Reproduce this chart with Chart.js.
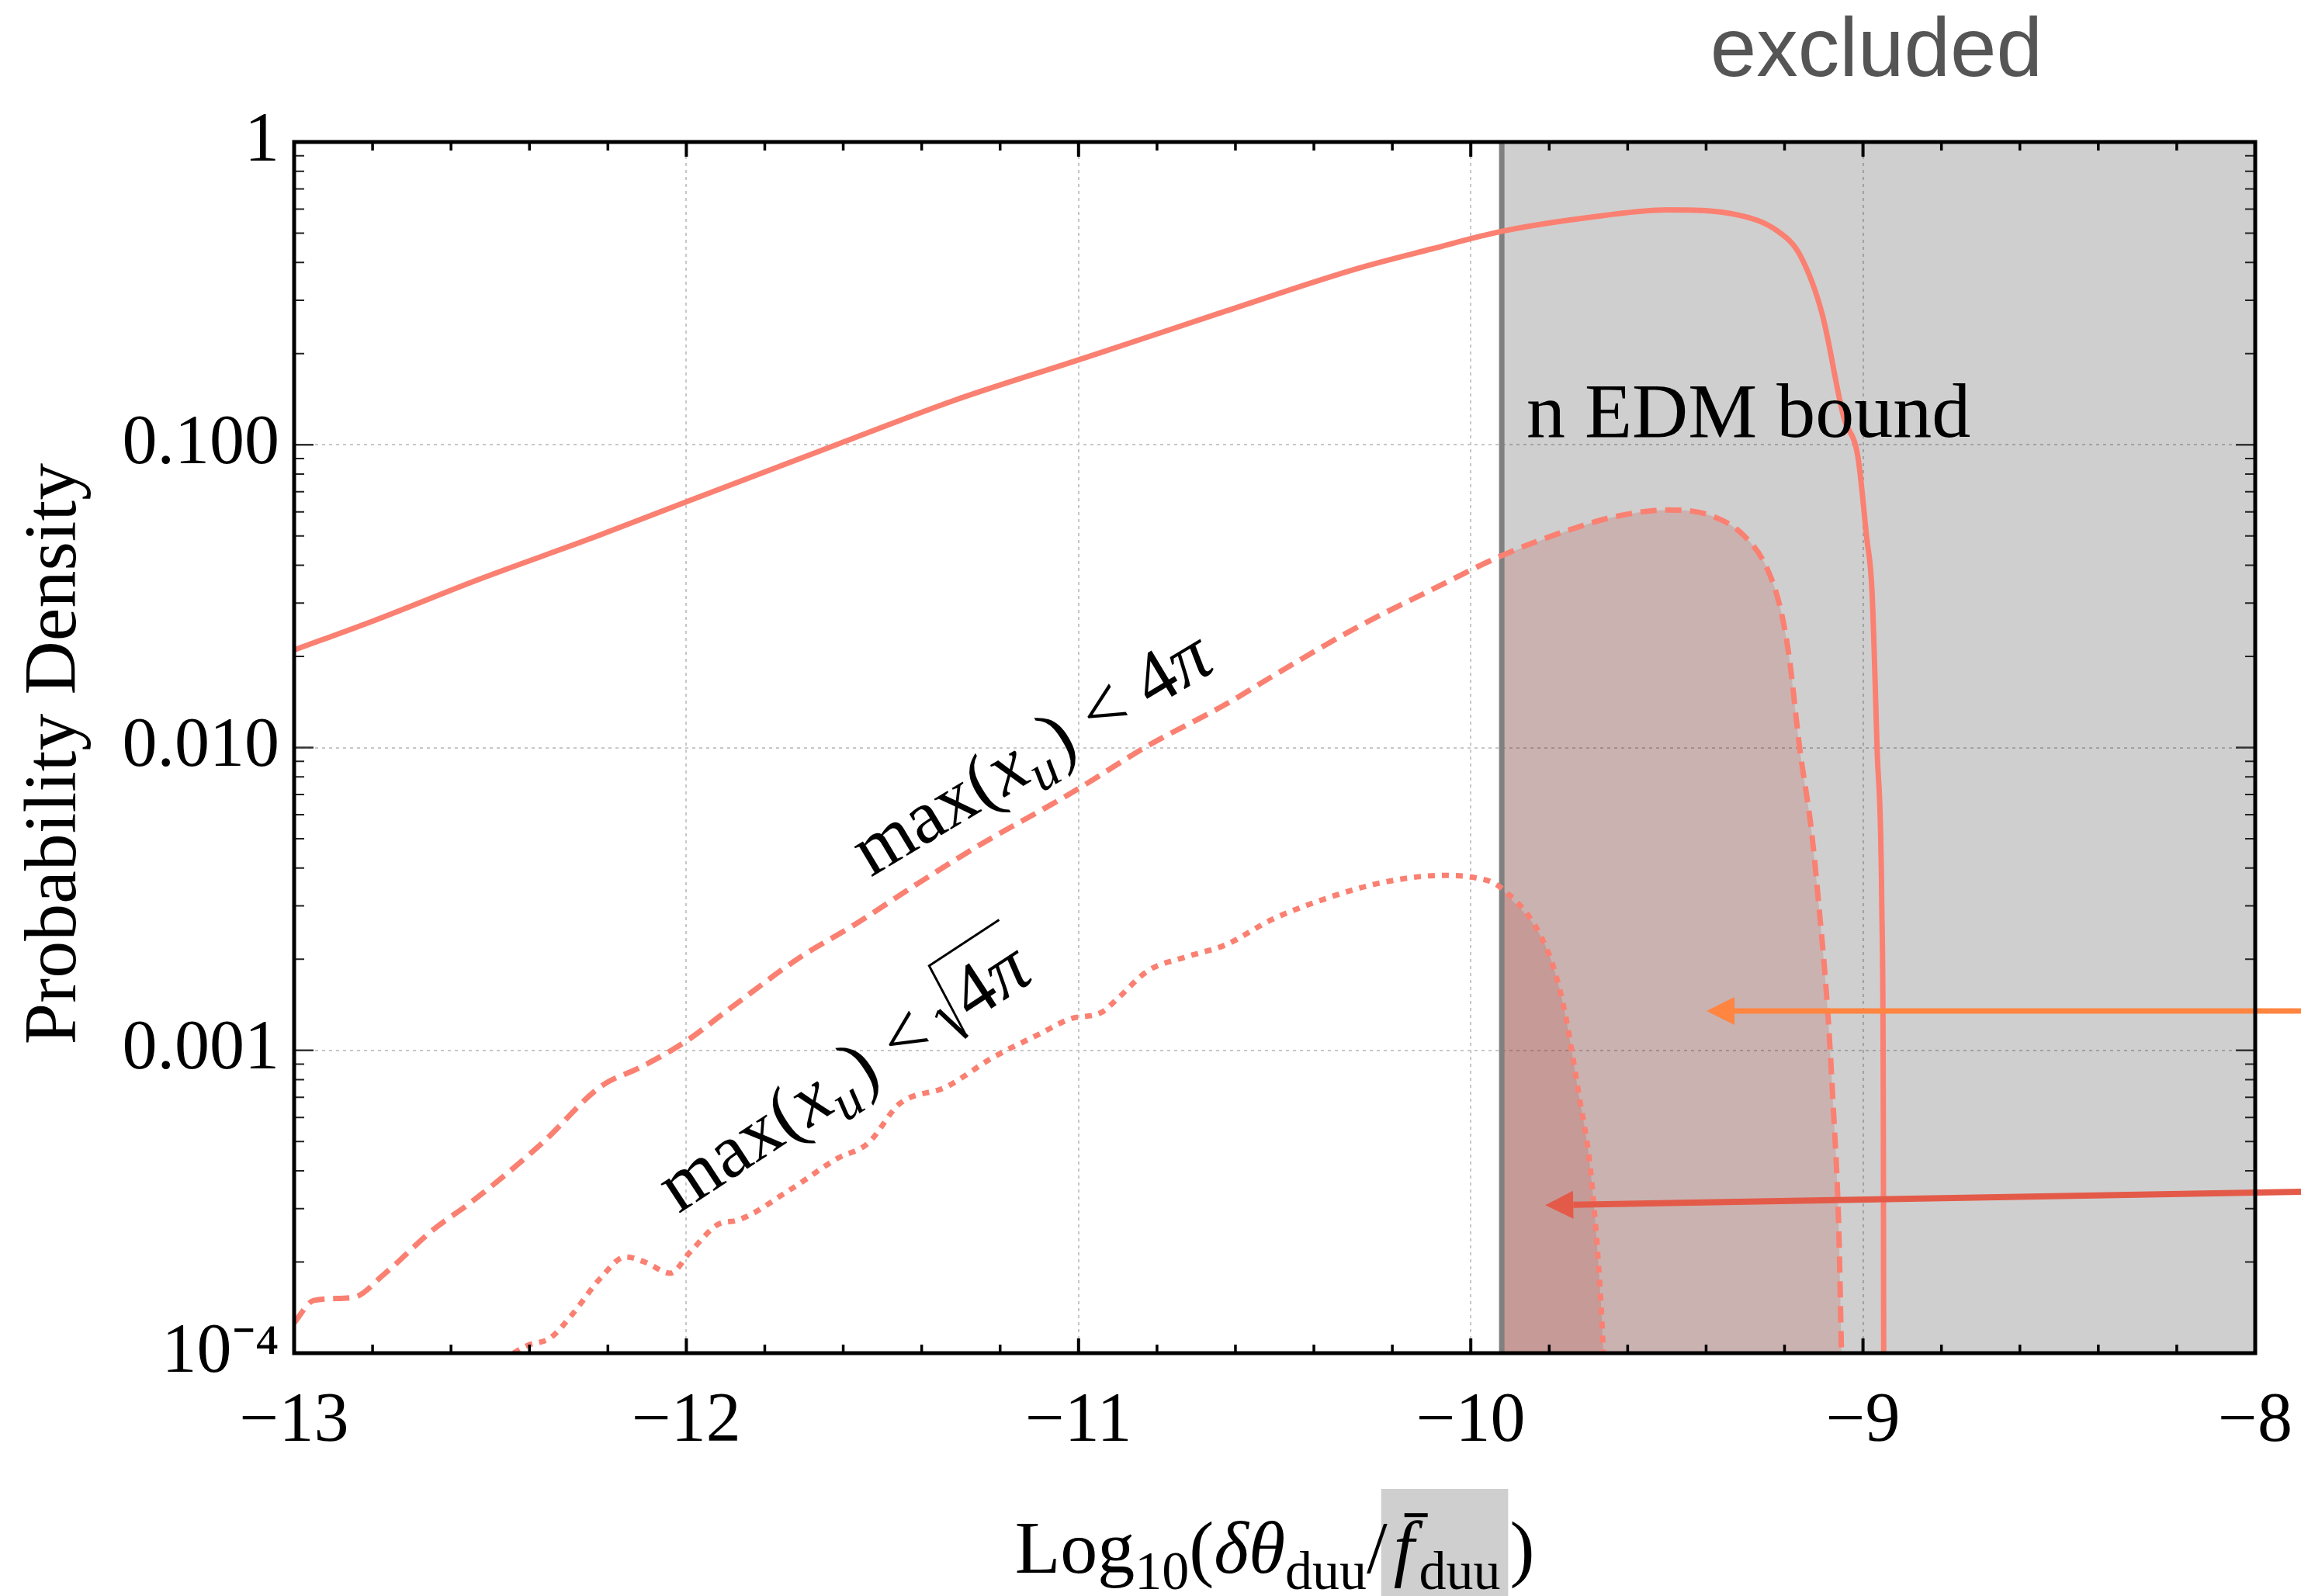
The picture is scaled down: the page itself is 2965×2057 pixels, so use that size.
<!DOCTYPE html>
<html>
<head>
<meta charset="utf-8">
<script src="https://cdn.jsdelivr.net/npm/chart.js@4.4.1/dist/chart.umd.min.js"></script>
<style>
  html, body { margin: 0; padding: 0; background: #ffffff; }
  canvas { display: block; }
</style>
</head>
<body>
<canvas id="chart" width="2965" height="2057" style="width:2965px;height:2057px"></canvas>
<script>
// ===== Data =====
const xTicks = [-13, -12, -11, -10, -9, -8];
const xTickLabels = ["\u221213", "\u221212", "\u221211", "\u221210", "\u22129", "\u22128"];
const yTicks = [1e-4, 1e-3, 1e-2, 0.1, 1];
const yTickLabels = ["10\u207B\u2074", "0.001", "0.010", "0.100", "1"];

const nEdmBound = -9.921;

// solid curve (no cut)
const solidX = [-13, -12.802, -12.525, -12.228, -11.991, -11.575, -11.318, -10.982, -10.626, -10.289,
  -10.101, -9.921, -9.710, -9.498, -9.316, -9.217, -9.161, -9.104, -9.049, -9.013,
  -8.991, -8.977, -8.964, -8.952, -8.948, -8.947];
const solidY = [0.0210, 0.0261, 0.0361, 0.0499, 0.0655, 0.105, 0.140, 0.194, 0.276, 0.382,
  0.443, 0.507, 0.561, 0.597, 0.573, 0.507, 0.424, 0.270, 0.123, 0.0912,
  0.0499, 0.0328, 0.00986, 0.00296, 0.000483, 0.00005];

// dashed curve: max(x_u) < 4pi
const dashedX = [-13, -12.950, -12.849, -12.772, -12.646, -12.545, -12.369, -12.218, -12.117, -12.003,
  -11.892, -11.714, -11.575, -11.417, -11.259, -11.021, -10.823, -10.626, -10.487, -10.289,
  -10.111, -9.921, -9.737, -9.624, -9.498, -9.385, -9.302, -9.245, -9.211, -9.189,
  -9.161, -9.132, -9.112, -9.090, -9.076, -9.062, -9.055, -9.050];
const dashedY = [1.259e-4, 1.493e-4, 1.528e-4, 1.816e-4, 2.553e-4, 3.177e-4, 4.920e-4, 7.603e-4, 8.79e-4, 1.067e-3,
  1.365e-3, 2.014e-3, 2.582e-3, 3.508e-3, 4.710e-3, 7.047e-3, 0.01014, 0.01387, 0.01778, 0.02500,
  0.03266, 0.04305, 0.05297, 0.05821, 0.06095, 0.0582, 0.04989, 0.03917, 0.02897, 0.02023,
  0.00986, 0.005395, 0.002958, 0.001349, 6.56e-4, 2.65e-4, 1.01e-4, 5e-5];

// dotted curve: max(x_u) < sqrt(4pi)
const dottedX = [-12.50, -12.406, -12.347, -12.294, -12.218, -12.155, -12.104, -12.041, -11.991, -11.915,
  -11.872, -11.734, -11.615, -11.536, -11.457, -11.338, -11.219, -11.101, -11.021, -10.942,
  -10.903, -10.823, -10.725, -10.626, -10.507, -10.368, -10.230, -10.072, -9.992, -9.921,
  -9.808, -9.765, -9.723, -9.695, -9.668, -9.655];
const dottedY = [8.9e-5, 1.059e-4, 1.122e-4, 1.327e-4, 1.774e-4, 2.080e-4, 1.995e-4, 1.837e-4, 2.153e-4, 2.679e-4,
  2.742e-4, 3.475e-4, 4.395e-4, 4.943e-4, 6.653e-4, 7.568e-4, 9.462e-4, 1.130e-3, 1.271e-3, 1.334e-3,
  1.472e-3, 1.832e-3, 2.037e-3, 2.228e-3, 2.704e-3, 3.177e-3, 3.573e-3, 3.784e-3, 3.724e-3, 3.428e-3,
  2.188e-3, 1.432e-3, 6.966e-4, 4.046e-4, 1.449e-4, 6.3e-5];

// arrows coming in from the right (data coords)
const orangeArrow = { from: [-7.883, 0.00135], to: [-9.399, 0.00135] };
const redArrow = { from: [-7.883, 3.41e-4], to: [-9.810, 3.08e-4] };

// ===== Styles =====
const SALMON = "#fa8072";
const SERIF = '"Liberation Serif", "Times New Roman", serif';

function toPoints(xs, ys) {
    return xs.map((x, i) => ({ x: x, y: ys[i] }));
}

const solidPts = toPoints(solidX, solidY);
const dashedPts = toPoints(dashedX, dashedY);
const dottedPts = toPoints(dottedX, dottedY);

// draw a row of text runs (mixed size / italic / sub) starting at x,y
function drawRuns(ctx, runs, x, y, doDraw) {
    let cx = x;
    runs.forEach(r => {
        ctx.font = (r.it ? "italic " : "") + r.size + "px " + SERIF;
        if (doDraw) ctx.fillText(r.t, cx, y + (r.dy || 0));
        r.x0 = cx;
        cx += ctx.measureText(r.t).width + (r.gap || 0);
        r.x1 = cx;
    });
    return cx - x;
}

function mathLabel(F, withRoot) {
    const sub = Math.round(F * 0.7);
    const runs = [
        { t: "max(", size: F },
        { t: "x", size: F, it: true },
        { t: "u", size: sub, it: true, dy: F * 0.2, gap: F * 0.04 },
        { t: ")", size: F, gap: F * 0.26 },
        { t: "<", size: F, gap: F * 0.26 }
    ];
    const tail = [
        { t: "4", size: F },
        { t: "\u03C0", size: F, it: true }
    ];
    return { runs, tail, withRoot };
}

function drawMathLabel(ctx, lab, F, px, py, angleDeg) {
    ctx.save();
    ctx.translate(px, py);
    ctx.rotate(angleDeg * Math.PI / 180);
    ctx.fillStyle = "#000";
    ctx.textBaseline = "alphabetic";
    ctx.textAlign = "left";
    let w = drawRuns(ctx, lab.runs, 0, 0, true);
    if (lab.withRoot) {
        const x0 = w - F * 0.06;
        const rootW = F * 0.36;
        const tailW = drawRuns(ctx, lab.tail, x0 + rootW, 0, true);
        ctx.strokeStyle = "#000";
        ctx.lineJoin = "miter";
        ctx.lineWidth = F * 0.03;
        ctx.beginPath();
        ctx.moveTo(x0, -F * 0.30);
        ctx.lineTo(x0 + F * 0.08, -F * 0.36);
        ctx.stroke();
        ctx.lineWidth = F * 0.06;
        ctx.beginPath();
        ctx.moveTo(x0 + F * 0.08, -F * 0.36);
        ctx.lineTo(x0 + F * 0.20, F * 0.14);
        ctx.stroke();
        ctx.lineWidth = F * 0.03;
        ctx.beginPath();
        ctx.moveTo(x0 + F * 0.20, F * 0.14);
        ctx.lineTo(x0 + F * 0.30, -F * 0.92);
        ctx.lineTo(x0 + rootW + tailW + F * 0.04, -F * 0.92);
        ctx.stroke();
    } else {
        drawRuns(ctx, lab.tail, w, 0, true);
    }
    ctx.restore();
}

function drawArrow(ctx, x1, y1, x2, y2, color, lw, headLen, headHalf) {
    const ang = Math.atan2(y2 - y1, x2 - x1);
    const bx = x2 - Math.cos(ang) * headLen;
    const by = y2 - Math.sin(ang) * headLen;
    ctx.save();
    ctx.strokeStyle = color;
    ctx.fillStyle = color;
    ctx.lineWidth = lw;
    ctx.beginPath();
    ctx.moveTo(x1, y1);
    ctx.lineTo(bx, by);
    ctx.stroke();
    ctx.beginPath();
    ctx.moveTo(x2, y2);
    ctx.lineTo(bx + Math.sin(ang) * headHalf, by - Math.cos(ang) * headHalf);
    ctx.lineTo(bx - Math.sin(ang) * headHalf, by + Math.cos(ang) * headHalf);
    ctx.closePath();
    ctx.fill();
    ctx.restore();
}

// ===============================
// DECORATION PLUGIN
// ===============================
const decor = {
    id: "decor",
    afterDatasetsDraw(chart) {
        const { ctx, chartArea: a, scales: { x, y } } = chart;

        // arrows
        drawArrow(ctx, x.getPixelForValue(orangeArrow.from[0]), y.getPixelForValue(orangeArrow.from[1]),
            x.getPixelForValue(orangeArrow.to[0]), y.getPixelForValue(orangeArrow.to[1]),
            "#ff8540", 7, 36, 18);
        drawArrow(ctx, x.getPixelForValue(redArrow.from[0]), y.getPixelForValue(redArrow.from[1]),
            x.getPixelForValue(redArrow.to[0]), y.getPixelForValue(redArrow.to[1]),
            "#e45a49", 8, 36, 18);

        // inward tick marks
        ctx.save();
        ctx.lineCap = "butt";
        ctx.strokeStyle = "#000";
        for (let i = 0; i < xTicks.length; i++) {
            const px = x.getPixelForValue(xTicks[i]);
            ctx.lineWidth = 4;
            ctx.beginPath();
            ctx.moveTo(px, a.bottom); ctx.lineTo(px, a.bottom - 19);
            ctx.moveTo(px, a.top); ctx.lineTo(px, a.top + 19);
            ctx.stroke();
            if (i < xTicks.length - 1) {
                const step = (xTicks[i + 1] - xTicks[i]) / 5;
                for (let k = 1; k < 5; k++) {
                    const mx = x.getPixelForValue(xTicks[i] + k * step);
                    ctx.lineWidth = 3.5;
                    ctx.beginPath();
                    ctx.moveTo(mx, a.bottom); ctx.lineTo(mx, a.bottom - 11);
                    ctx.moveTo(mx, a.top); ctx.lineTo(mx, a.top + 11);
                    ctx.stroke();
                }
            }
        }
        for (let i = 0; i < yTicks.length; i++) {
            const py = y.getPixelForValue(yTicks[i]);
            ctx.strokeStyle = "#333";
            ctx.lineWidth = 2.5;
            ctx.beginPath();
            ctx.moveTo(a.left, py); ctx.lineTo(a.left + 25, py);
            ctx.moveTo(a.right, py); ctx.lineTo(a.right - 25, py);
            ctx.stroke();
            if (i < yTicks.length - 1) {
                for (let m = 2; m <= 9; m++) {
                    const my = y.getPixelForValue(yTicks[i] * m);
                    ctx.strokeStyle = "#222";
                    ctx.lineWidth = 2;
                    ctx.beginPath();
                    ctx.moveTo(a.left, my); ctx.lineTo(a.left + 13, my);
                    ctx.moveTo(a.right, my); ctx.lineTo(a.right - 13, my);
                    ctx.stroke();
                }
            }
        }
        // frame
        ctx.strokeStyle = "#000";
        ctx.lineWidth = 5;
        ctx.strokeRect(a.left, a.top, a.right - a.left, a.bottom - a.top);
        ctx.restore();

        // text annotations
        ctx.save();
        ctx.fillStyle = "#000";
        ctx.textAlign = "left";
        ctx.textBaseline = "alphabetic";
        ctx.font = "100px " + SERIF;
        ctx.fillText("n EDM bound", x.getPixelForValue(-9.858), y.getPixelForValue(0.106));

        ctx.fillStyle = "#555555";
        ctx.textAlign = "center";
        ctx.font = '107px "Liberation Sans", Arial, sans-serif';
        ctx.fillText("excluded", x.getPixelForValue(-8.966), y.getPixelForValue(1.65));
        ctx.restore();

        drawMathLabel(ctx, mathLabel(98, false), 98,
            x.getPixelForValue(-11.53), y.getPixelForValue(0.00372), -31);
        drawMathLabel(ctx, mathLabel(98, true), 98,
            x.getPixelForValue(-12.02), y.getPixelForValue(2.88e-4), -33.3);

        // y title
        ctx.save();
        ctx.fillStyle = "#000";
        ctx.textAlign = "center";
        ctx.textBaseline = "alphabetic";
        ctx.font = "96px " + SERIF;
        ctx.translate(a.left - 282, (a.top + a.bottom) / 2 + 8);
        ctx.rotate(-Math.PI / 2);
        ctx.fillText("Probability Density", 0, 0);
        ctx.restore();

        // x title: Log10(δθduu / f̄duu)
        ctx.save();
        ctx.fillStyle = "#000";
        ctx.textAlign = "left";
        ctx.textBaseline = "alphabetic";
        const F = 96, S = 70, D = 21;
        const runs = [
            { t: "Log", size: F },
            { t: "10", size: S, dy: D },
            { t: "(", size: F },
            { t: "\u03B4\u03B8", size: F, it: true },
            { t: "duu", size: S, dy: D },
            { t: "/", size: F, gap: 8 },
            { t: "f", size: F, it: true, gap: 6 },
            { t: "duu", size: S, dy: D, gap: 12 },
            { t: ")", size: F }
        ];
        const base = a.bottom + 283;
        const w = drawRuns(ctx, runs, 0, 0, false);
        const x0 = (a.left + a.right) / 2 - w / 2;
        drawRuns(ctx, runs, x0, base, false);
        // grey patch behind f̄duu
        ctx.fillStyle = "#cfcfcf";
        ctx.fillRect(runs[6].x0 - 16, a.bottom + 175, runs[7].x1 - runs[6].x0 + 14, chart.height - (a.bottom + 175));
        ctx.fillStyle = "#000";
        drawRuns(ctx, runs, x0, base, true);
        // bar over f
        ctx.fillRect(runs[6].x0 + 14, base - F * 0.80, 30, 5);
        ctx.restore();
    }
};

// ===============================
// CHART
// ===============================
const tickFont = { family: SERIF, size: 90 };
const curve = { cubicInterpolationMode: "monotone", fill: false };

new Chart(document.getElementById("chart").getContext("2d"), {
    type: "line",
    data: {
        datasets: [
            {   // excluded region
                data: [{ x: nEdmBound, y: 1 }, { x: -8, y: 1 }],
                borderWidth: 0,
                backgroundColor: "rgba(0,0,0,0.19)",
                fill: "start",
                order: 10
            },
            {
                data: dashedPts.filter(p => p.x >= nEdmBound),
                borderWidth: 0,
                backgroundColor: "rgba(182,62,50,0.2)",
                cubicInterpolationMode: "monotone",
                fill: "start",
                order: 9
            },
            {
                data: dottedPts.filter(p => p.x >= nEdmBound),
                borderWidth: 0,
                backgroundColor: "rgba(182,62,50,0.2)",
                cubicInterpolationMode: "monotone",
                fill: "start",
                order: 8
            },
            {   // n EDM bound line
                data: [{ x: nEdmBound, y: 1e-4 }, { x: nEdmBound, y: 1 }],
                borderColor: "#808080",
                borderWidth: 7,
                fill: false,
                order: 7
            },
            {
                ...curve,
                data: solidPts,
                borderColor: SALMON,
                borderWidth: 7,
                order: 3
            },
            {
                ...curve,
                data: dashedPts,
                borderColor: SALMON,
                borderWidth: 7,
                borderDash: [21, 11],
                order: 2
            },
            {
                ...curve,
                data: dottedPts,
                borderColor: SALMON,
                borderWidth: 7,
                borderDash: [9, 9],
                order: 1
            }
        ]
    },
    options: {
        responsive: false,
        animation: false,
        devicePixelRatio: 1,
        layout: { padding: { left: 0, right: 59, top: 183, bottom: 0 } },
        elements: { point: { radius: 0 }, line: { tension: 0 } },
        plugins: { legend: { display: false }, tooltip: { enabled: false } },
        scales: {
            x: {
                type: "linear",
                min: -13,
                max: -8,
                afterFit: s => { s.height = 313; s.paddingLeft = 0; s.paddingRight = 0; },
                afterBuildTicks: s => { s.ticks = xTicks.map(v => ({ value: v })); },
                ticks: {
                    font: tickFont,
                    color: "#000",
                    padding: 35,
                    maxRotation: 0,
                    autoSkip: false,
                    callback: (v, i) => xTickLabels[i]
                },
                grid: { color: "#c8c8c8", lineWidth: 2, drawTicks: false },
                border: { display: false, dash: [4, 5] }
            },
            y: {
                type: "logarithmic",
                min: 1e-4,
                max: 1,
                afterFit: s => { s.width = 379; },
                afterBuildTicks: s => { s.ticks = yTicks.map(v => ({ value: v })); },
                ticks: {
                    font: tickFont,
                    color: "#000",
                    padding: 19,
                    autoSkip: false,
                    callback: (v, i) => yTickLabels[i]
                },
                grid: { color: "#c8c8c8", lineWidth: 2, drawTicks: false },
                border: { display: false, dash: [4, 5] }
            }
        }
    },
    plugins: [decor]
});
</script>
</body>
</html>
